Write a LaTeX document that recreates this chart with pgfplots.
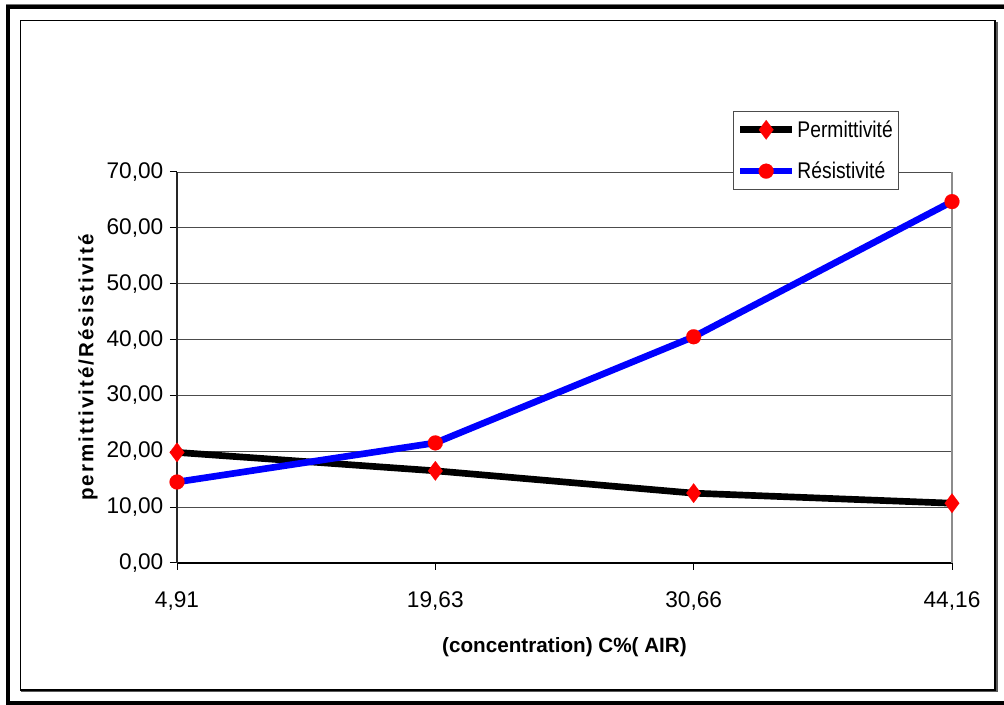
\documentclass[border=0pt]{standalone}
\usepackage{pgfplots}
\pgfplotsset{compat=1.18}
\usepackage{fontspec}
\setmainfont{Liberation Sans}
\newfontfamily\narrowfont[FakeStretch=0.85]{Liberation Sans}
\newfontfamily\spacedfont[LetterSpace=10]{Liberation Sans}
\begin{document}
\begin{tikzpicture}
\useasboundingbox (0,0) rectangle (753pt,528.75pt);
\begin{scope}[x=0.75pt,y=0.75pt]
\clip (0,0) rectangle (1004,705);
\draw[black!55, line width=0.75pt] (6,700.5) -- (1010,700.5);
\draw[line width=3pt] (8,-5) -- (8,698) -- (1010,698);
\draw[line width=3pt] (8,1.5) -- (1010,1.5);
\draw[black!65, line width=1.5pt] (996.5,683) -- (996.5,13.7) -- (21,13.7);
\draw[black, line width=0.9pt] (20.5,684.5) rectangle (995,15);
\end{scope}
\begin{axis}[
  at={(132.75pt,106.5pt)}, anchor=south west,
  scale only axis, width=581.25pt, height=293.25pt,
  xmin=0, xmax=3, ymin=0, ymax=70,
  xtick={0,1,2,3}, xticklabels={{4,91},{19,63},{30,66},{44,16}},
  ytick={0,10,20,30,40,50,60,70},
  yticklabels={{0,00},{10,00},{20,00},{30,00},{40,00},{50,00},{60,00},{70,00}},
  axis x line*=bottom, axis y line*=left,
  axis line style={-},
  x axis line style={black, line width=0.9pt},
  y axis line style={black!85, line width=1pt},
  tick align=outside, major tick length=5.25pt,
  every tick/.style={black, line width=0.75pt},
  ymajorgrids, grid style={black!70, line width=0.6pt},
  /pgf/number format/assume math mode=true,
  ticklabel style={font=\fontsize{17}{20}\selectfont},
  xticklabel style={yshift=-13pt},
  yticklabel style={xshift=-1.5pt},
  xlabel={(concentration) C\%( AIR)},
  xlabel style={at={(axis description cs:0.5,-0.2148)}, anchor=center, font=\bfseries\fontsize{15.5}{18}\selectfont},
  ylabel={permittivité/Résistivité},
  ylabel style={at={(axis description cs:-0.1148,0.5)}, anchor=center, font=\spacedfont\bfseries\fontsize{15.4}{18}\selectfont},
  clip=false,
  legend style={at={(rel axis cs:0.7174,1.157)}, anchor=north west, draw=black!70, line width=0.75pt, fill=white,
    font=\narrowfont\fontsize{17}{19}\selectfont, inner xsep=2.5pt, inner ysep=5pt, row sep=13pt,
    nodes={inner xsep=1.5pt}},
  legend cell align=left,
  legend image code/.code={\draw[mark repeat=2,mark phase=2,#1] plot coordinates {(0pt,0pt) (19.5pt,0pt) (39pt,0pt)};},
]
\draw[black!45, line width=1pt] (rel axis cs:1,0) -- (rel axis cs:1,1);
\addplot[black, line width=5pt, line join=round, mark=diamond*, mark size=7.3pt,
  mark options={fill=red, draw=red, line width=0.1pt}]
  coordinates {(0,19.8) (1,16.5) (2,12.5) (3,10.7)};
\addlegendentry{Permittivité}
\addplot[blue, line width=5pt, line join=round, mark=*, mark size=5.6pt,
  mark options={fill=red, draw=red, line width=0.1pt}]
  coordinates {(0,14.5) (1,21.5) (2,40.5) (3,64.7)};
\addlegendentry{Résistivité}
\end{axis}
\end{tikzpicture}
\end{document}
